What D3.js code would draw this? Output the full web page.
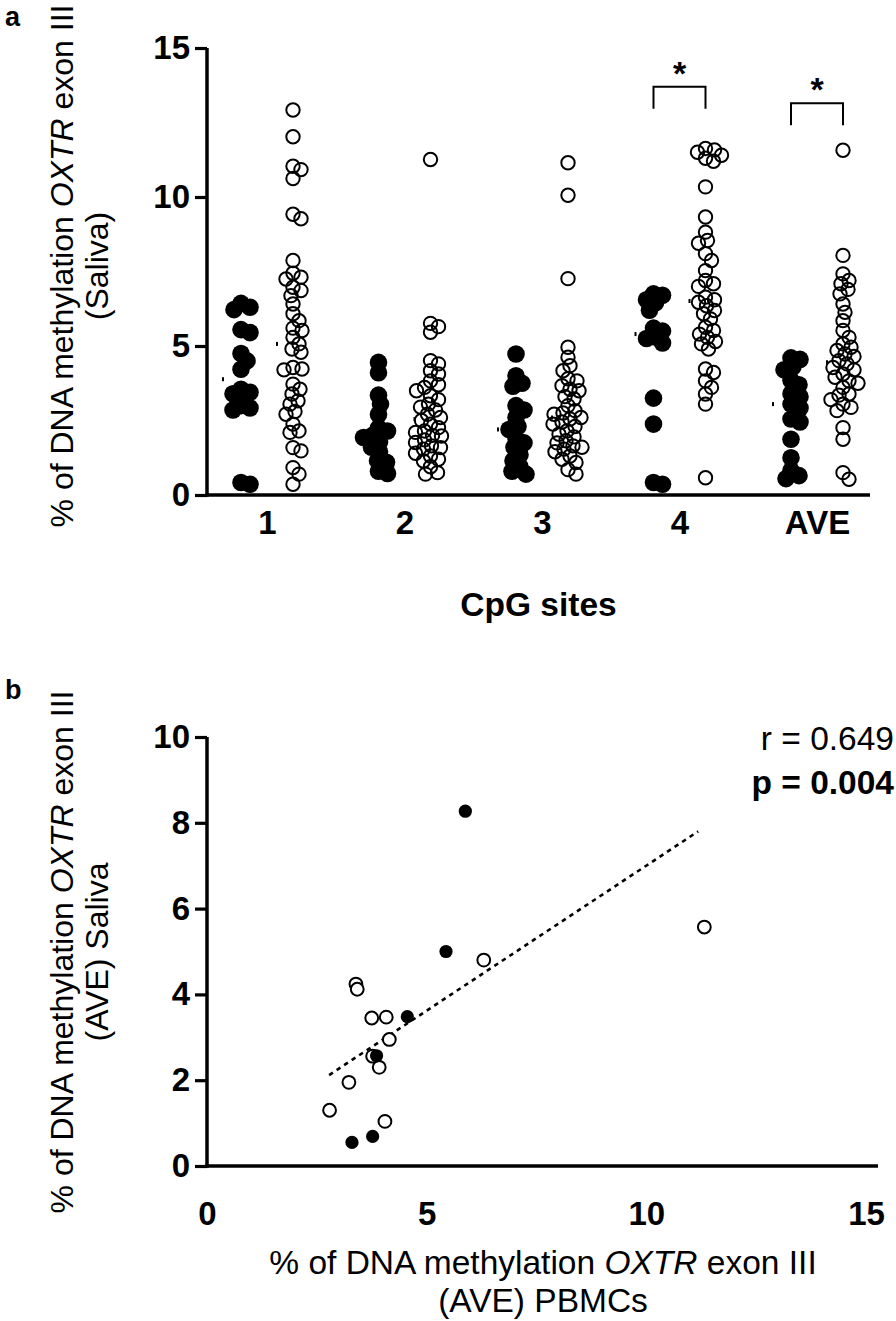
<!DOCTYPE html>
<html>
<head>
<meta charset="utf-8">
<script src="https://cdn.jsdelivr.net/npm/d3@7"></script>
<style>
  html, body { margin: 0; padding: 0; background: #fff; }
  svg { display: block; font-family: "Liberation Sans", Arial, sans-serif; }
</style>
</head>
<body>
<svg id="chart" width="896" height="1321"></svg>
<script>
// ---------------- Panel a data ----------------
const categories = ["1", "2", "3", "4", "AVE"];
const yTicksA = [0, 5, 10, 15];

const filledA = [
  [6.43, 6.30, 6.22, 5.55, 5.45, 4.75, 4.50, 4.22, 3.55, 3.45, 3.40, 3.00, 2.92, 2.85, 0.42, 0.36],
  [4.45, 4.10, 3.35, 3.05, 2.70, 2.25, 2.15, 2.00, 1.93, 1.78, 1.60, 1.45, 1.15, 1.10, 0.80, 0.72],
  [4.73, 4.00, 3.75, 3.65, 3.00, 2.85, 2.60, 2.30, 2.20, 1.90, 1.75, 1.60, 1.35, 1.15, 0.95, 0.80, 0.70],
  [6.75, 6.70, 6.55, 6.45, 6.20, 5.60, 5.50, 5.30, 5.25, 5.10, 3.25, 2.38, 0.42, 0.36],
  [4.60, 4.55, 4.30, 4.20, 3.85, 3.70, 3.40, 3.30, 3.05, 2.92, 2.55, 2.45, 1.87, 1.25, 0.82, 0.65, 0.55]
];
const openA = [
  [12.92, 12.02, 11.03, 10.92, 10.62, 9.42, 9.27, 7.87, 7.44, 7.31, 7.25, 6.97, 6.86, 6.69, 6.41, 6.08, 5.85, 5.60, 5.52, 5.29, 5.07, 4.90, 4.79, 4.28, 4.23, 4.20, 3.72, 3.55, 3.39, 3.16, 3.05, 2.80, 2.71, 2.38, 2.15, 2.10, 1.59, 1.48, 0.92, 0.70, 0.36],
  [11.26, 5.76, 5.65, 5.46, 4.51, 4.40, 4.17, 4.06, 3.83, 3.70, 3.61, 3.50, 3.33, 3.20, 3.05, 2.95, 2.85, 2.71, 2.60, 2.50, 2.38, 2.26, 2.15, 2.10, 2.00, 1.98, 1.85, 1.76, 1.65, 1.59, 1.54, 1.40, 1.31, 1.20, 1.14, 0.95, 0.75, 0.70],
  [11.15, 10.06, 7.26, 4.96, 4.62, 4.34, 4.17, 3.90, 3.83, 3.67, 3.55, 3.50, 3.30, 3.22, 3.00, 2.83, 2.75, 2.71, 2.60, 2.55, 2.45, 2.38, 2.30, 2.15, 2.04, 1.95, 1.82, 1.75, 1.65, 1.60, 1.54, 1.45, 1.31, 1.20, 1.09, 0.85, 0.70],
  [11.63, 11.58, 11.50, 11.40, 11.30, 11.20, 10.34, 9.33, 8.82, 8.54, 8.45, 8.10, 7.87, 7.53, 7.20, 7.09, 7.00, 6.64, 6.55, 6.47, 6.35, 6.19, 6.08, 5.91, 5.63, 5.52, 5.40, 5.29, 5.15, 5.07, 4.90, 4.23, 4.11, 3.83, 3.61, 3.39, 3.05, 0.58],
  [11.57, 8.04, 7.42, 7.20, 7.09, 6.90, 6.75, 6.41, 6.13, 5.85, 5.52, 5.29, 5.07, 4.96, 4.85, 4.73, 4.65, 4.51, 4.40, 4.28, 4.20, 4.06, 3.95, 3.83, 3.75, 3.61, 3.39, 3.35, 3.20, 3.05, 2.94, 2.83, 2.26, 1.87, 0.75, 0.53]
];
// significance brackets: category and bracket level (data units)
const sigCats = ["4", "AVE"];
const sigLevels = [13.7, 13.15];
const sigLabels = ["*", "*"];

// ---------------- Panel b data ----------------
const pbmcFilled   = [5.88, 5.44, 4.56, 3.86, 3.77, 3.30];
const salivaFilled = [8.27, 5.00, 3.48, 2.57, 0.69, 0.55];
const pbmcOpen   = [6.30, 3.39, 3.42, 3.75, 4.08, 4.15, 3.77, 3.92, 3.23, 2.79, 4.05, 11.32];
const salivaOpen = [4.80, 4.24, 4.12, 3.45, 3.47, 2.95, 2.56, 2.30, 1.95, 1.30, 1.04, 5.57];
// fitted regression line (end points)
const fitX = [2.78, 11.18];
const fitY = [2.12, 7.80];
const xTicksB = [0, 5, 10, 15];
const yTicksB = [0, 2, 4, 6, 8, 10];
const statLines = ["r = 0.649", "p = 0.004"];

// ---------------- Drawing ----------------
const svg = d3.select("#chart");
const FONT = "'Liberation Sans', Arial, sans-serif";
const TICK_FS = 33, TITLE_FS = 33.5, YTITLE_FS = 32;

// ===== Panel a =====
const axA = { left: 207, right: 870, top: 48, bottom: 495 };
const yA = d3.scaleLinear().domain([0, 15]).range([axA.bottom, axA.top]);
const xA = d3.scalePoint().domain(categories).range([267, 817]);
const groupOffset = 26;

svg.append("text").attr("x", 5).attr("y", 26).attr("font-size", 27).attr("font-weight", "bold")
  .attr("font-family", FONT).text("a");

// y axis
const yAxisA = svg.append("g").attr("transform", `translate(${axA.left},0)`)
  .call(d3.axisLeft(yA).tickValues(yTicksA).tickSize(12).tickPadding(5).tickFormat(d3.format("d")));
yAxisA.select(".domain").attr("stroke-width", 3.5).attr("d", `M0,${axA.top}V${axA.bottom + 1.75}`);
yAxisA.selectAll(".tick line").attr("stroke-width", 3.2);
yAxisA.selectAll(".tick text").attr("font-size", TICK_FS).attr("font-weight", "bold").attr("font-family", FONT).attr("fill", "#000");

// x axis (no ticks)
const xAxisA = svg.append("g").attr("transform", `translate(0,${axA.bottom})`)
  .call(d3.axisBottom(xA).tickSize(0).tickPadding(16));
xAxisA.select(".domain").attr("stroke-width", 3.5).attr("d", `M${axA.left - 1.75},0H${axA.right}`);
xAxisA.selectAll(".tick text").attr("font-size", TICK_FS).attr("font-weight", "bold").attr("font-family", FONT).attr("fill", "#000");

svg.append("text").attr("x", (axA.left + axA.right) / 2 + 0).attr("y", 616)
  .attr("text-anchor", "middle").attr("font-size", TITLE_FS).attr("font-weight", "bold").attr("font-family", FONT)
  .text("CpG sites");

function yLabel(cy, line2) {
  const g = svg.append("g");
  const t1 = g.append("text").attr("transform", `translate(73,${cy}) rotate(-90)`)
    .attr("text-anchor", "middle").attr("font-size", YTITLE_FS).attr("font-family", FONT);
  t1.append("tspan").text("% of DNA methylation ");
  t1.append("tspan").attr("font-style", "italic").text("OXTR");
  t1.append("tspan").text(" exon III");
  g.append("text").attr("transform", `translate(108,${cy}) rotate(-90)`)
    .attr("text-anchor", "middle").attr("font-size", YTITLE_FS).attr("font-family", FONT).text(line2);
}
yLabel(266, "(Saliva)");

// beeswarm layout (deterministic)
function swarm(values, cx, yScale, minDist) {
  const pts = values.map(v => ({ v, y: yScale(v) })).sort((a, b) => a.y - b.y);
  const placed = [];
  for (const p of pts) {
    for (let k = 0; k < 400; k++) {
      const off = (k % 2 === 1 ? 1 : -1) * Math.ceil(k / 2);
      const x = cx + off;
      let ok = true;
      for (const q of placed) {
        const dx = q.x - x, dy = q.y - p.y;
        if (dx * dx + dy * dy < minDist * minDist) { ok = false; break; }
      }
      if (ok) { p.x = x; break; }
    }
    placed.push(p);
  }
  return placed;
}

categories.forEach((c, i) => {
  const cxF = xA(c) - groupOffset, cxO = xA(c) + groupOffset;
  const fpts = swarm(filledA[i], cxF, yA, 9);
  const opts = swarm(openA[i], cxO, yA, 8.5);
  svg.append("g").selectAll("circle").data(fpts).join("circle")
    .attr("cx", d => d.x).attr("cy", d => d.y).attr("r", 8.8).attr("fill", "#000");
  svg.append("g").selectAll("circle").data(opts).join("circle")
    .attr("cx", d => d.x).attr("cy", d => d.y).attr("r", 6.7)
    .attr("fill", "none").attr("stroke", "#000").attr("stroke-width", 2);
  // tiny median marks
  [[filledA[i], cxF - 18], [openA[i], cxO - 16]].forEach(([vals, mx]) => {
    svg.append("rect").attr("x", mx - 1).attr("y", yA(d3.median(vals)) - 2)
      .attr("width", 2).attr("height", 4).attr("fill", "#000");
  });
});

// significance brackets
sigCats.forEach((c, i) => {
  const x0 = xA(c) - groupOffset, x1 = xA(c) + groupOffset, yy = yA(sigLevels[i]);
  svg.append("path").attr("d", `M${x0},${yy + 22}V${yy}H${x1}V${yy + 22}`)
    .attr("fill", "none").attr("stroke", "#000").attr("stroke-width", 2);
  svg.append("text").attr("x", (x0 + x1) / 2).attr("y", yy - 2).attr("text-anchor", "middle")
    .attr("font-size", 34).attr("font-weight", "bold").attr("font-family", FONT).text(sigLabels[i]);
});

// ===== Panel b =====
const axB = { left: 207, right: 866, top: 737, bottom: 1166 };
const xB = d3.scaleLinear().domain([0, 15]).range([axB.left, axB.right]);
const yB = d3.scaleLinear().domain([0, 10]).range([axB.bottom, axB.top]);

svg.append("text").attr("x", 5).attr("y", 699).attr("font-size", 27).attr("font-weight", "bold")
  .attr("font-family", FONT).text("b");

const yAxisB = svg.append("g").attr("transform", `translate(${axB.left},0)`)
  .call(d3.axisLeft(yB).tickValues(yTicksB).tickSize(12).tickPadding(5).tickFormat(d3.format("d")));
yAxisB.select(".domain").attr("stroke-width", 3.5).attr("d", `M0,${axB.top}V${axB.bottom + 1.75}`);
yAxisB.selectAll(".tick line").attr("stroke-width", 3.2);
yAxisB.selectAll(".tick text").attr("font-size", TICK_FS).attr("font-weight", "bold").attr("font-family", FONT).attr("fill", "#000");

const xAxisB = svg.append("g").attr("transform", `translate(0,${axB.bottom})`)
  .call(d3.axisBottom(xB).tickValues(xTicksB).tickSize(0).tickPadding(36).tickFormat(d3.format("d")));
xAxisB.select(".domain").attr("stroke-width", 3.5).attr("d", `M${axB.left - 1.75},0H${axB.right + 12}`);
xAxisB.selectAll(".tick text").attr("font-size", TICK_FS).attr("font-weight", "bold").attr("font-family", FONT).attr("fill", "#000");

yLabel(952, "(AVE) Saliva");

const xl1 = svg.append("text").attr("x", 543).attr("y", 1274).attr("text-anchor", "middle")
  .attr("font-size", TITLE_FS).attr("font-family", FONT);
xl1.append("tspan").text("% of DNA methylation ");
xl1.append("tspan").attr("font-style", "italic").text("OXTR");
xl1.append("tspan").text(" exon III");
svg.append("text").attr("x", 543).attr("y", 1312).attr("text-anchor", "middle")
  .attr("font-size", TITLE_FS).attr("font-family", FONT).text("(AVE) PBMCs");

// regression line
svg.append("line")
  .attr("x1", xB(fitX[0])).attr("y1", yB(fitY[0]))
  .attr("x2", xB(fitX[1])).attr("y2", yB(fitY[1]))
  .attr("stroke", "#000").attr("stroke-width", 2.6).attr("stroke-dasharray", "4.5,4.5");

svg.append("g").selectAll("circle").data(pbmcOpen.map((x, i) => [x, salivaOpen[i]])).join("circle")
  .attr("cx", d => xB(d[0])).attr("cy", d => yB(d[1])).attr("r", 6.4)
  .attr("fill", "#fff").attr("stroke", "#000").attr("stroke-width", 2);
svg.append("g").selectAll("circle").data(pbmcFilled.map((x, i) => [x, salivaFilled[i]])).join("circle")
  .attr("cx", d => xB(d[0])).attr("cy", d => yB(d[1])).attr("r", 6.6).attr("fill", "#000");

// stats text
svg.append("text").attr("x", 894).attr("y", 750).attr("text-anchor", "end")
  .attr("font-size", TITLE_FS).attr("font-family", FONT).text(statLines[0]);
svg.append("text").attr("x", 894).attr("y", 794).attr("text-anchor", "end")
  .attr("font-size", TITLE_FS).attr("font-weight", "bold").attr("font-family", FONT).text(statLines[1]);
</script>
</body>
</html>
